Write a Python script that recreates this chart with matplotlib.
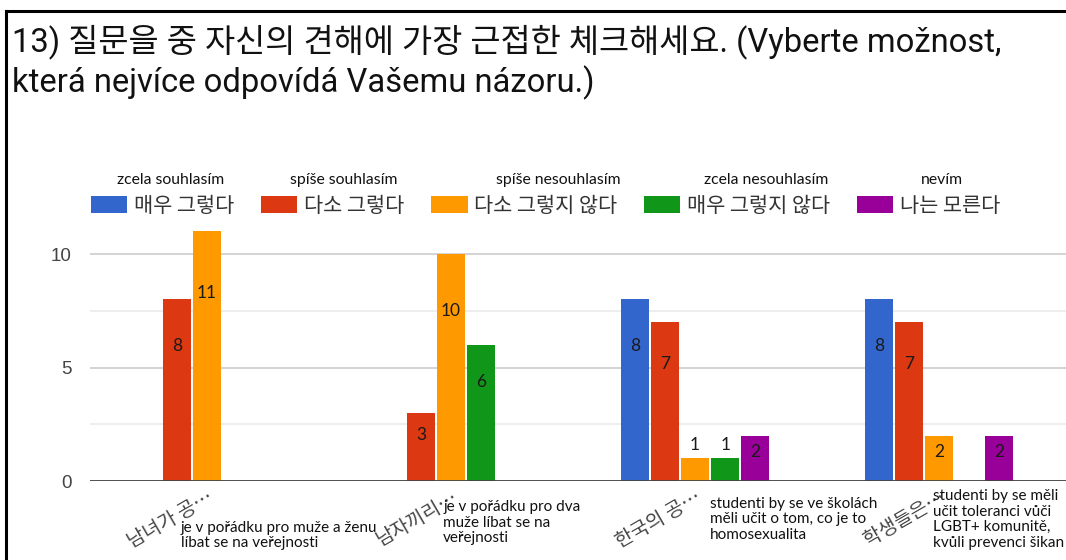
import matplotlib
matplotlib.use('Agg')
import matplotlib.pyplot as plt
from matplotlib.lines import Line2D
import numpy as np

KR = ['Noto Sans CJK KR', 'DejaVu Sans']
CZ = ['Lato', 'DejaVu Sans']
TITLE_FONT = ['Roboto', 'Noto Sans CJK KR', 'DejaVu Sans']

title = '13) 질문을 중 자신의 견해에 가장 근접한 체크해세요. (Vyberte možnost,\nkterá nejvíce odpovídá Vašemu názoru.)'
categories = ['남녀가 공…', '남자끼리…', '한국의 공…', '학생들은…']
category_notes = ['je v pořádku pro muže a ženu\nlíbat se na veřejnosti',
                  'je v pořádku pro dva\nmuže líbat se na\nveřejnosti',
                  'studenti by se ve školách\nměli učit o tom, co je to\nhomosexualita',
                  'studenti by se měli\nučit toleranci vůči\nLGBT+ komunitě,\nkvůli prevenci šikan']
series_names = ['매우 그렇다', '다소 그렇다', '다소 그렇지 않다', '매우 그렇지 않다', '나는 모른다']
series_notes = ['zcela souhlasím', 'spíše souhlasím', 'spíše nesouhlasím', 'zcela nesouhlasím', 'nevím']

very_agree = [0, 0, 8, 8]
agree = [8, 3, 7, 7]
disagree = [11, 10, 1, 2]
very_disagree = [0, 6, 1, 0]
dont_know = [0, 0, 2, 2]

series = [very_agree, agree, disagree, very_disagree, dont_know]
colors = ['#3366CC', '#DC3912', '#FF9900', '#109618', '#990099']

fig = plt.figure(figsize=(10.66, 5.6), dpi=100)
ax = fig.add_axes([90 / 1066, 79 / 560, 976 / 1066, 261 / 560])

x = np.arange(len(categories))
step = 0.123
width = 0.113
handles = []
for i, (vals, c) in enumerate(zip(series, colors)):
    pos = x + (i - 2) * step
    b = ax.bar(pos, vals, width, color=c, zorder=3)
    handles.append(b)
    for px, v in zip(pos, vals):
        if v == 0:
            continue
        ly = v + 0.6 if v == 1 else v * 0.78 - 0.3
        ax.text(px, ly, str(v), ha='center', va='center', fontsize=12.5,
                family=CZ, color='#1a1a1a', zorder=4)

ax.set_xlim(-0.48, 3.52)
ax.set_ylim(0, 11.5)
ax.set_yticks([0, 5, 10])
ax.set_yticks([2.5, 7.5], minor=True)
ax.grid(axis='y', which='major', color='#cccccc', lw=1.2, zorder=0)
ax.grid(axis='y', which='minor', color='#ebebeb', lw=1.2, zorder=0)
ax.axhline(0, color='#444444', lw=2, zorder=5)
for s in ax.spines.values():
    s.set_visible(False)
ax.tick_params(axis='y', which='both', length=0, pad=13, labelsize=13.5, labelcolor='#444444')
ax.tick_params(axis='x', length=0, pad=4)
ax.set_xticks(x)
ax.set_xticklabels(categories, rotation=30, ha='right', rotation_mode='anchor',
                   fontsize=14, color='#444444', family=KR)
for lab in ax.get_yticklabels():
    lab.set_family(['Liberation Sans', 'DejaVu Sans'])

# notes under the categories (dx in data units, dy in axes fraction)
note_offsets = [(-0.107, -0.152), (-0.033, -0.072), (0.06, -0.06), (-0.025, -0.03)]
for xi, note, (dx, dy) in zip(x, category_notes, note_offsets):
    ax.text(xi + dx, dy, note, transform=ax.get_xaxis_transform(), ha='left', va='top',
            fontsize=11, family=CZ, color='#111111', linespacing=1.16)

leg = fig.legend(handles, series_names, loc='upper left', bbox_to_anchor=(91 / 1066, 1 - 195 / 560),
                 ncol=5, frameon=False, prop={'family': KR, 'size': 15},
                 handlelength=1.75, handleheight=0.85, handletextpad=0.3, columnspacing=1.3,
                 borderaxespad=0, borderpad=0)
for t in leg.get_texts():
    t.set_color('#333333')

note_x = [171, 344, 558, 766, 942]
for nx, note in zip(note_x, series_notes):
    fig.text(nx / 1066, 1 - 180 / 560, note, ha='center', va='center',
             fontsize=11.3, family=CZ, color='#111111')

fig.text(12 / 1066, 1 - 62 / 560, title, ha='left', va='center', fontsize=23.6,
         family=TITLE_FONT, color='#111111', linespacing=1.22)

# frame of the screenshot
fig.add_artist(Line2D([6 / 1066, 6 / 1066], [0, 1 - 11 / 560], transform=fig.transFigure,
                      color='black', lw=2.2))
fig.add_artist(Line2D([6 / 1066, 1], [1 - 11 / 560, 1 - 11 / 560], transform=fig.transFigure,
                      color='black', lw=2.2))

fig.savefig('out.png', dpi=100)
